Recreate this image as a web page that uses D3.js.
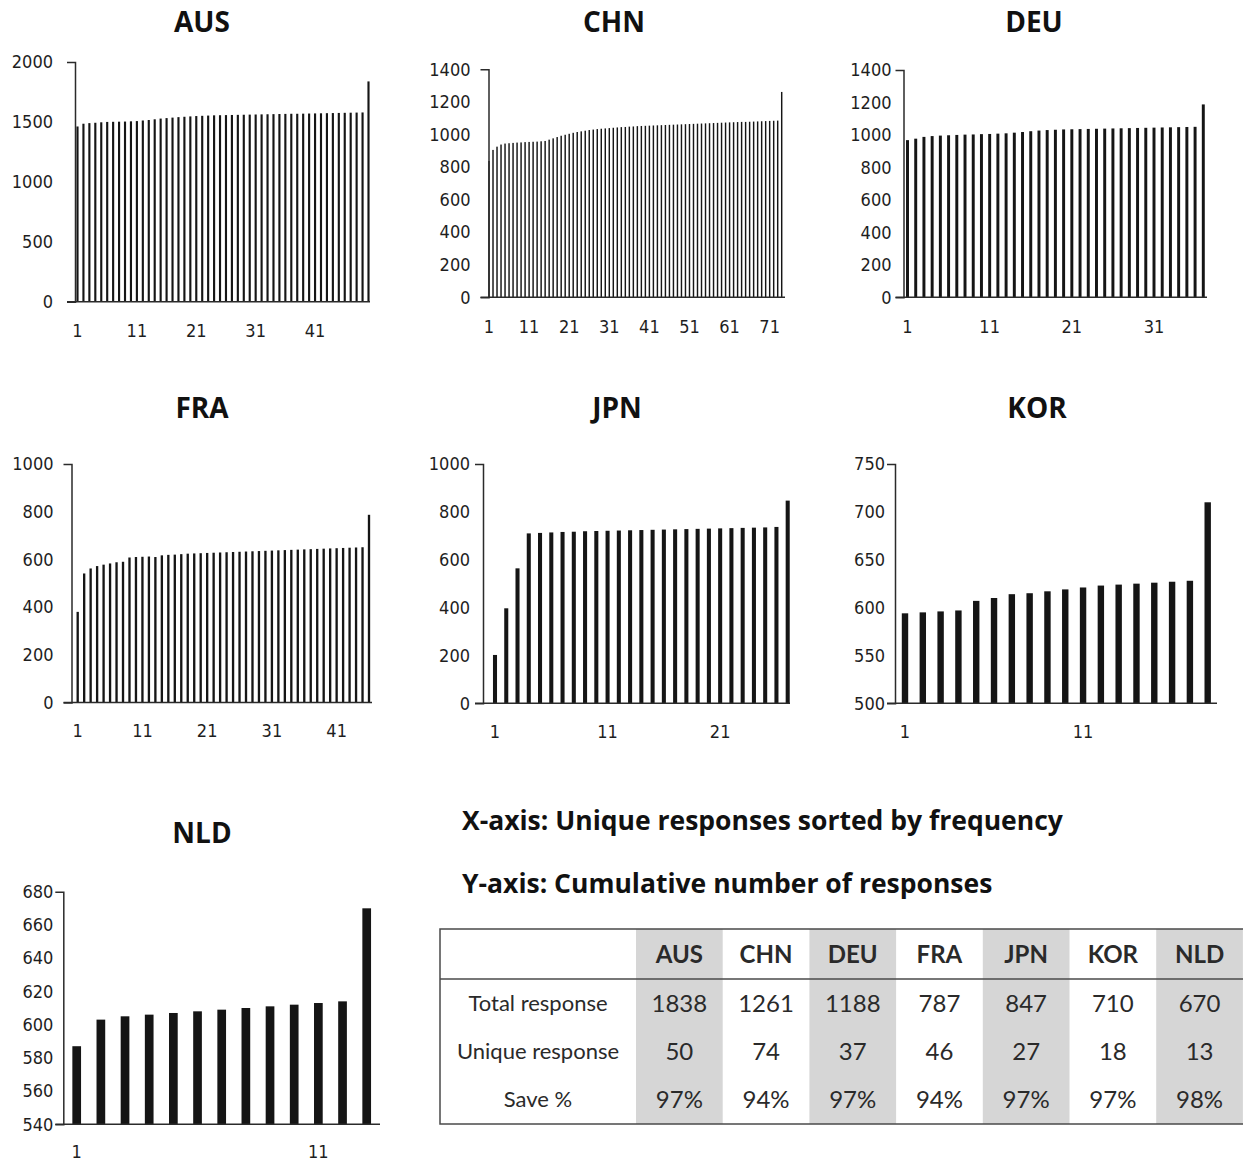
<!DOCTYPE html>
<html>
<head>
<meta charset="utf-8">
<script src="https://cdn.jsdelivr.net/npm/d3@7"></script>
<style>
  html, body { margin: 0; padding: 0; background: #fff; }
  svg { display: block; }
  .tick text { font-family: "DejaVu Sans Condensed", "DejaVu Sans", Verdana, sans-serif; font-stretch: condensed; font-size: 18px; fill: #1e1e1e; }
  .title { font-family: "Open Sans", sans-serif; font-weight: 700; font-size: 28px; fill: #111; }
  .note { font-family: "Open Sans", sans-serif; font-weight: 700; font-size: 26.5px; fill: #111; }
  .cell { font-family: Lato, "Open Sans", sans-serif; font-size: 24px; fill: #2a2a2a; }
</style>
</head>
<body>
<div id="app"></div>
<script>
const WIDTH = 1243;
const HEIGHT = 1161;

const countries = ['AUS', 'CHN', 'DEU', 'FRA', 'JPN', 'KOR', 'NLD'];
const totalResponse = [1838, 1261, 1188, 787, 847, 710, 670];
const uniqueResponse = [50, 74, 37, 46, 27, 18, 13];
const savePct = ['97%', '94%', '97%', '94%', '97%', '97%', '98%'];

// cumulative number of responses, one value per unique response
const ausValues = [1462, 1485, 1490, 1493, 1497, 1500, 1501, 1502, 1503, 1505,
  1507, 1512, 1516, 1522, 1528, 1532, 1536, 1540, 1543, 1546,
  1549, 1551, 1553, 1555, 1556, 1557, 1558, 1559, 1560, 1561,
  1562, 1563, 1564, 1565, 1566, 1567, 1568, 1568, 1569, 1570,
  1571, 1572, 1573, 1574, 1575, 1576, 1577, 1578, 1579, 1838];
const chnValues = [837, 905, 925, 938, 944, 946, 948, 950, 951, 953,
  954, 955, 956, 958, 960, 968, 976, 984, 992, 998,
  1004, 1010, 1015, 1019, 1023, 1027, 1030, 1033, 1035, 1037,
  1039, 1041, 1043, 1045, 1046, 1048, 1049, 1051, 1052, 1053,
  1054, 1055, 1056, 1057, 1058, 1059, 1060, 1061, 1062, 1063,
  1064, 1065, 1066, 1067, 1068, 1069, 1070, 1071, 1072, 1073,
  1074, 1075, 1076, 1077, 1077, 1078, 1079, 1080, 1081, 1082,
  1083, 1084, 1085, 1261];
const deuValues = [968, 977, 988, 993, 996, 998, 1000, 1002, 1003, 1005,
  1006, 1008, 1010, 1014, 1018, 1023, 1027, 1030, 1032, 1034,
  1035, 1036, 1037, 1038, 1039, 1040, 1041, 1042, 1043, 1044,
  1045, 1046, 1047, 1048, 1049, 1050, 1188];
const fraValues = [380, 541, 562, 572, 578, 583, 588, 590, 608, 610,
  611, 612, 610, 617, 619, 620, 622, 624, 625, 626,
  627, 628, 629, 630, 631, 632, 633, 634, 635, 636,
  637, 638, 639, 640, 641, 642, 643, 644, 645, 646,
  647, 648, 649, 650, 651, 787];
const jpnValues = [202, 397, 564, 710, 712, 714, 716, 717, 719, 720,
  721, 722, 723, 724, 725, 726, 727, 728, 729, 730,
  731, 732, 733, 734, 735, 737, 847];
const korValues = [594, 595, 596, 597, 607, 610, 614, 615, 617, 619,
  621, 623, 624, 625, 626, 627, 628, 710];
const nldValues = [587, 603, 605, 606, 607, 608, 609, 610, 611, 612,
  613, 614, 670];

const seriesValues = [ausValues, chnValues, deuValues, fraValues, jpnValues, korValues, nldValues];

const yTicks = [
  [0, 500, 1000, 1500, 2000],
  [0, 200, 400, 600, 800, 1000, 1200, 1400],
  [0, 200, 400, 600, 800, 1000, 1200, 1400],
  [0, 200, 400, 600, 800, 1000],
  [0, 200, 400, 600, 800, 1000],
  [500, 550, 600, 650, 700, 750],
  [540, 560, 580, 600, 620, 640, 660, 680]
];

// where each small panel sits on the page
const layout = [
  { axisX: 75, top: 62, bottom: 301.7, first: 77.5, last: 368.5, end: 370, titleX: 202, titleY: 22, labelY: 331, gap: 22 },
  { axisX: 488.5, top: 69.3, bottom: 297.3, first: 489, last: 781.7, end: 785, titleX: 614, titleY: 22, labelY: 327, gap: 18 },
  { axisX: 903.5, top: 70, bottom: 297.3, first: 907.5, last: 1203.3, end: 1207, titleX: 1034, titleY: 22, labelY: 327, gap: 12 },
  { axisX: 71.5, top: 464, bottom: 702.5, first: 77.7, last: 369, end: 372, titleX: 202, titleY: 408, labelY: 731, gap: 18 },
  { axisX: 483, top: 464, bottom: 703.3, first: 495, last: 787.7, end: 790, titleX: 617, titleY: 408, labelY: 731.5, gap: 13 },
  { axisX: 895, top: 464, bottom: 703.3, first: 905, last: 1207.7, end: 1217, titleX: 1037, titleY: 408, labelY: 731.5, gap: 10 },
  { axisX: 63.3, top: 891.7, bottom: 1124.3, first: 76.7, last: 366.7, end: 380, titleX: 202, titleY: 833, labelY: 1152, gap: 10 }
];

const BAR_COLOR = '#151515';
const AXIS_COLOR = '#2b2b2b';

const svg = d3.select('#app')
  .append('svg')
  .attr('width', WIDTH)
  .attr('height', HEIGHT);

countries.forEach((name, i) => drawPanel(name, seriesValues[i], yTicks[i], layout[i]));
drawNotes();
drawTable();

function drawPanel(name, values, ticks, L) {
  const g = svg.append('g').attr('class', 'panel');
  const n = values.length;
  const step = (L.last - L.first) / (n - 1);

  const x = d3.scaleBand()
    .domain(d3.range(1, n + 1))
    .range([L.first - step / 2, L.last + step / 2])
    .paddingInner(0.64)
    .paddingOuter(0.32);

  const y = d3.scaleLinear()
    .domain(d3.extent(ticks))
    .range([L.bottom, L.top]);

  g.append('text')
    .attr('class', 'title')
    .attr('x', L.titleX)
    .attr('y', L.titleY)
    .attr('dy', '0.36em')
    .attr('text-anchor', 'middle')
    .text(name);

  g.selectAll('rect.bar')
    .data(values)
    .join('rect')
    .attr('class', 'bar')
    .attr('x', (d, i) => x(i + 1))
    .attr('width', x.bandwidth())
    .attr('y', d => y(d))
    .attr('height', d => y(y.domain()[0]) - y(d))
    .attr('fill', BAR_COLOR);

  // x axis baseline, starting a little left of the y axis like the original
  g.append('line')
    .attr('x1', L.axisX - 8)
    .attr('x2', L.end)
    .attr('y1', L.bottom)
    .attr('y2', L.bottom)
    .attr('stroke', AXIS_COLOR)
    .attr('stroke-width', 1.5);

  const yAxis = g.append('g')
    .attr('transform', `translate(${L.axisX},0)`)
    .call(d3.axisLeft(y).tickValues(ticks).tickSizeInner(0).tickSizeOuter(8).tickPadding(L.gap).tickFormat(d3.format('d')));
  yAxis.select('.domain').attr('stroke', AXIS_COLOR).attr('stroke-width', 1.5);
  yAxis.selectAll('.tick line').remove();

  const labelled = x.domain().filter(d => (d - 1) % 10 === 0);
  const xAxis = g.append('g')
    .attr('transform', `translate(0,${L.labelY})`)
    .call(d3.axisBottom(x).tickValues(labelled).tickSize(0).tickPadding(0));
  xAxis.select('.domain').remove();
  xAxis.selectAll('.tick text').attr('dy', '0.36em').attr('y', 0);
}

function drawNotes() {
  svg.append('text')
    .attr('class', 'note')
    .attr('x', 462)
    .attr('y', 820)
    .attr('dy', '0.36em')
    .text('X-axis: Unique responses sorted by frequency');
  svg.append('text')
    .attr('class', 'note')
    .attr('x', 462)
    .attr('y', 883)
    .attr('dy', '0.36em')
    .text('Y-axis: Cumulative number of responses');
}

function drawTable() {
  const left = 440, right = 1244, top = 929, headBottom = 979, bottom = 1124;
  const labelCol = 636;
  const g = svg.append('g').attr('class', 'table');

  const col = d3.scaleBand()
    .domain(countries)
    .range([labelCol, labelCol + 7 * 86.7]);

  const rows = [
    { label: 'Total response', values: totalResponse },
    { label: 'Unique response', values: uniqueResponse },
    { label: 'Save %', values: savePct }
  ];
  const rowY = d3.scalePoint()
    .domain(rows.map(r => r.label))
    .range([1003, 1099]);

  g.selectAll('rect.shade')
    .data(countries.filter((c, i) => i % 2 === 0))
    .join('rect')
    .attr('class', 'shade')
    .attr('x', d => col(d))
    .attr('width', col.bandwidth())
    .attr('y', top)
    .attr('height', bottom - top)
    .attr('fill', '#d6d6d6');

  g.append('rect')
    .attr('x', left)
    .attr('y', top)
    .attr('width', right - left)
    .attr('height', bottom - top)
    .attr('fill', 'none')
    .attr('stroke', '#4a4a4a')
    .attr('stroke-width', 1.5);

  g.append('line')
    .attr('x1', left)
    .attr('x2', right)
    .attr('y1', headBottom)
    .attr('y2', headBottom)
    .attr('stroke', '#4a4a4a')
    .attr('stroke-width', 1.5);

  g.selectAll('text.head')
    .data(countries)
    .join('text')
    .attr('class', 'cell head')
    .attr('x', d => col(d) + col.bandwidth() / 2)
    .attr('y', 954)
    .attr('dy', '0.36em')
    .attr('text-anchor', 'middle')
    .style('font-weight', 700)
    .text(d => d);

  rows.forEach(r => {
    g.append('text')
      .attr('class', 'cell')
      .attr('x', 538)
      .attr('y', rowY(r.label))
      .attr('dy', '0.36em')
      .attr('text-anchor', 'middle')
      .style('font-size', '22px')
      .text(r.label);

    g.selectAll(null)
      .data(r.values)
      .join('text')
      .attr('class', 'cell')
      .attr('x', (d, i) => col(countries[i]) + col.bandwidth() / 2)
      .attr('y', rowY(r.label))
      .attr('dy', '0.36em')
      .attr('text-anchor', 'middle')
      .text(d => d);
  });
}
</script>
</body>
</html>
